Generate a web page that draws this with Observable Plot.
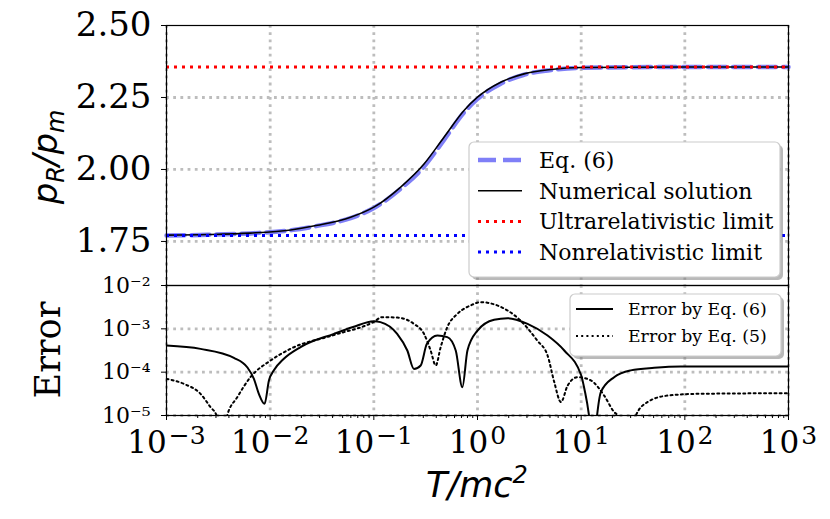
<!DOCTYPE html>
<html>
<head>
<meta charset="utf-8">
<script src="https://cdn.jsdelivr.net/npm/d3@7"></script>
<script src="https://cdn.jsdelivr.net/npm/@observablehq/plot@0.6"></script>
<style>
  body { margin: 0; background: #fff; }
  #chart { position: relative; width: 830px; height: 519px; font-family: "DejaVu Serif", serif; }
  #chart svg { position: absolute; left: 0; overflow: visible; }
</style>
</head>
<body>
<div id="chart"></div>
<script>
// --- data ---
const numT = [0.001, 0.0025, 0.00646, 0.0158, 0.0285, 0.0597, 0.1, 0.1815, 0.3048, 0.4753, 0.7413, 1, 1.675, 2.81, 5.09, 10, 100, 1000];
const numP = [1.772, 1.774, 1.779, 1.790, 1.806, 1.834, 1.869, 1.939, 2.019, 2.112, 2.205, 2.251, 2.303, 2.332, 2.347, 2.354, 2.356, 2.356];

const fitT = [0.001, 0.0025, 0.00646, 0.0158, 0.0285, 0.0597, 0.1, 0.1815, 0.3048, 0.4753, 0.7413, 1, 1.675, 2.81, 5.09, 10, 100, 1000];
const fitP = [1.771, 1.773, 1.778, 1.789, 1.804, 1.831, 1.866, 1.933, 2.010, 2.103, 2.198, 2.245, 2.298, 2.329, 2.345, 2.353, 2.356, 2.356];

const ultraLimit = 2.356;
const nonrelLimit = 1.771;

const err6T = [0.001, 0.00213, 0.00447, 0.00601, 0.00697, 0.00778, 0.00883, 0.00973, 0.01086, 0.01355, 0.01963, 0.0412, 0.063, 0.1, 0.1159, 0.1679, 0.2104, 0.2438, 0.2831, 0.3251, 0.4102, 0.5117, 0.6166, 0.7145, 0.7998, 1, 1.445, 1.95, 3.04, 4.74, 6.87, 10, 10.72, 12.2, 13.0, 13.9, 15.49, 20.8, 30.1, 50.6, 91.4, 1000];
const err6 = [4.12e-4, 3.45e-4, 2.14e-4, 1.30e-4, 7.0e-5, 3.16e-5, 1.86e-5, 6.46e-5, 1.10e-4, 2.04e-4, 3.80e-4, 7.67e-4, 1.10e-3, 1.50e-3, 1.43e-3, 7.67e-4, 3.16e-4, 1.19e-4, 1.43e-4, 4.51e-4, 7.0e-4, 6.43e-4, 3.16e-4, 4.5e-5, 3.16e-4, 9.1e-4, 1.62e-3, 1.76e-3, 1.30e-3, 7.0e-4, 3.16e-4, 8.5e-5, 4.2e-5, 6e-6, 1e-6, 6e-6, 3.47e-5, 7.67e-5, 1.10e-4, 1.26e-4, 1.35e-4, 1.35e-4];

const err5T = [0.001, 0.00147, 0.00213, 0.00266, 0.00304, 0.00339, 0.00385, 0.00481, 0.00646, 0.01009, 0.01574, 0.0412, 0.1, 0.12, 0.168, 0.2438, 0.3048, 0.3532, 0.3954, 0.4416, 0.5117, 0.6397, 0.859, 1.072, 1.549, 2.60, 3.767, 4.74, 5.50, 6.38, 7.40, 9.25, 12.39, 16.67, 20.8, 22.4, 27.5, 33.7, 43.6, 68.1, 131.8, 1000];
const err5 = [7.0e-5, 5.37e-5, 3.16e-5, 1.55e-5, 1e-5, 1e-6, 1e-5, 2.63e-5, 7.67e-5, 1.86e-4, 3.47e-4, 7.2e-4, 1.45e-3, 1.86e-3, 1.82e-3, 1.30e-3, 7.67e-4, 3.16e-4, 1.43e-4, 3.80e-4, 1.10e-3, 2.22e-3, 3.47e-3, 4.12e-3, 3.47e-3, 1.55e-3, 5.37e-4, 2.43e-4, 5.9e-5, 2.04e-5, 4.9e-5, 7.67e-5, 6.46e-5, 2.88e-5, 1.2e-5, 1e-5, 1e-6, 1e-5, 2.04e-5, 2.88e-5, 3.16e-5, 3.27e-5];

const decades = [1e-3, 1e-2, 1e-1, 1, 1e1, 1e2, 1e3];
const pTicks = [1.75, 2.0, 2.25, 2.5];
const errTicks = [1e-5, 1e-4, 1e-3, 1e-2];

// minor ticks 2..9 in each decade
const minorTicks = [];
for (const d of decades.slice(0, -1)) for (let k = 2; k <= 9; k++) minorTicks.push(d * k);

const rows = (xs, ys) => xs.map((T, i) => ({T, v: ys[i]}));

const gridStyle = {stroke: "#bdbdbd", strokeWidth: 2.8, strokeDasharray: "2.8,4.4"};
const dotted = "2,3.2";
const powLabel = d => `10^${Math.round(Math.log10(d))}`;
// unicode superscript form for the small error-axis labels
const supDigits = {"-": "\u207B", "0": "\u2070", "1": "\u00B9", "2": "\u00B2", "3": "\u00B3", "4": "\u2074", "5": "\u2075"};
const powSup = d => "10" + String(Math.round(Math.log10(d))).split("").map(c => supDigits[c]).join("");

// turn "10^-3" into 10 with a raised exponent
function superscripts(svg, axis, baseSize, supSize, rise, gap) {
  svg.querySelectorAll(`[aria-label="${axis}-axis tick label"] text`).forEach(el => {
    const s = el.textContent;
    if (!s.includes("^")) return;
    const [base, exp] = s.split("^");
    const t = d3.select(el);
    t.text(null);
    t.append("tspan").style("font-size", baseSize + "px").text(base);
    t.append("tspan").style("font-size", supSize + "px").attr("dx", gap).attr("dy", -rise)
      .text(exp.replace("-", "\u2212"));
  });
}

const chart = document.querySelector("#chart");

const topPlot = Plot.plot({
  width: 830,
  height: 286,
  marginLeft: 166,
  marginRight: 42,
  marginTop: 25,
  marginBottom: 1,
  style: {fontFamily: "DejaVu Serif", background: "transparent", color: "black", overflow: "visible"},
  x: {type: "log", domain: [1e-3, 1e3], axis: null},
  y: {domain: [1.597, 2.5]},
  marks: [
    Plot.ruleX(decades, gridStyle),
    Plot.ruleY(pTicks.slice(0, 3), gridStyle),
    Plot.line(rows(fitT, fitP), {x: "T", y: "v", stroke: "#7f7ff7", strokeWidth: 4.5, strokeDasharray: "18,7", curve: "monotone-x"}),
    Plot.line(rows(numT, numP), {x: "T", y: "v", stroke: "black", strokeWidth: 1.6, curve: "monotone-x"}),
    Plot.ruleY([ultraLimit], {stroke: "red", strokeWidth: 3, strokeDasharray: "3,5"}),
    Plot.ruleY([nonrelLimit], {stroke: "blue", strokeWidth: 3, strokeDasharray: "3,5"}),
    Plot.frame({stroke: "black", strokeWidth: 1.2}),
    Plot.axisY(pTicks, {tickSize: 5, tickPadding: 10, fontSize: 34, tickFormat: d3.format(".2f"), label: null})
  ]
});
topPlot.style.top = "0px";
chart.append(topPlot);

const bottomPlot = Plot.plot({
  width: 830,
  height: 249,
  marginLeft: 166,
  marginRight: 42,
  marginTop: 15,
  marginBottom: 104,
  style: {fontFamily: "DejaVu Serif", background: "transparent", color: "black", overflow: "visible"},
  x: {type: "log", domain: [1e-3, 1e3]},
  y: {type: "log", domain: [1e-5, 1e-2]},
  marks: [
    Plot.ruleX(decades, gridStyle),
    Plot.ruleY(errTicks.slice(0, 3), gridStyle),
    Plot.line(rows(err6T, err6), {x: "T", y: "v", stroke: "black", strokeWidth: 2, curve: "monotone-x", clip: true}),
    Plot.line(rows(err5T, err5), {x: "T", y: "v", stroke: "black", strokeWidth: 2, strokeDasharray: dotted, curve: "monotone-x", clip: true}),
    Plot.frame({stroke: "black", strokeWidth: 1.2}),
    Plot.axisX(minorTicks, {tickSize: 3, tickFormat: () => "", label: null}),
    Plot.axisX(decades, {tickSize: 5, tickPadding: 10, fontSize: 31, tickFormat: powLabel, label: null}),
    Plot.axisY(errTicks, {tickSize: 5, tickPadding: 11, fontSize: 22, tickFormat: powSup, label: null})
  ]
});
bottomPlot.style.top = "270px";
chart.append(bottomPlot);
superscripts(bottomPlot, "x", 31, 25, 9, 2);

// --- axis titles and legends ---
const overlay = d3.select(chart).append("svg")
  .attr("width", 830).attr("height", 519)
  .style("top", "0px")
  .attr("font-family", "DejaVu Serif");

const ylab = overlay.append("text")
  .attr("transform", "translate(57,157) rotate(-90)")
  .attr("text-anchor", "middle")
  .attr("font-family", "DejaVu Sans").attr("font-style", "italic").attr("font-size", 34);
ylab.append("tspan").text("p");
ylab.append("tspan").attr("font-size", 24).attr("dy", 7).text("R");
ylab.append("tspan").attr("dy", -7).text("/p");
ylab.append("tspan").attr("font-size", 24).attr("dy", 7).text("m");

overlay.append("text")
  .attr("transform", "translate(60,350) rotate(-90)")
  .attr("text-anchor", "middle").attr("font-size", 35)
  .text("Error");

const xlab = overlay.append("text")
  .attr("x", 477).attr("y", 497)
  .attr("text-anchor", "middle")
  .attr("font-family", "DejaVu Sans").attr("font-style", "italic").attr("font-size", 35);
xlab.append("tspan").text("T/mc");
xlab.append("tspan").attr("font-size", 24).attr("dy", -14).text("2");

function legendBox(x, y, w, h) {
  overlay.append("rect").attr("x", x + 3).attr("y", y + 3).attr("width", w).attr("height", h)
    .attr("rx", 5).attr("fill", "#808080").attr("opacity", 0.55);
  overlay.append("rect").attr("x", x).attr("y", y).attr("width", w).attr("height", h)
    .attr("rx", 5).attr("fill", "white").attr("stroke", "#cccccc").attr("stroke-width", 1.2);
}

legendBox(469, 142, 311, 135);
const legend1 = [
  {label: "Eq. (6)", stroke: "#7f7ff7", width: 4.5, dash: "18,7"},
  {label: "Numerical solution", stroke: "black", width: 1.6, dash: null},
  {label: "Ultrarelativistic limit", stroke: "red", width: 3, dash: "3,5"},
  {label: "Nonrelativistic limit", stroke: "blue", width: 3, dash: "3,5"}
];
legend1.forEach((d, i) => {
  const y = 160 + i * 30.7;
  overlay.append("line").attr("x1", 478).attr("x2", 522).attr("y1", y).attr("y2", y)
    .attr("stroke", d.stroke).attr("stroke-width", d.width).attr("stroke-dasharray", d.dash);
  overlay.append("text").attr("x", 539).attr("y", y).attr("dy", "0.36em")
    .attr("font-size", 22).text(d.label);
});

legendBox(570, 294, 211, 62);
const legend2 = [
  {label: "Error by Eq. (6)", dash: null},
  {label: "Error by Eq. (5)", dash: dotted}
];
legend2.forEach((d, i) => {
  const y = 309 + i * 27;
  overlay.append("line").attr("x1", 576).attr("x2", 613).attr("y1", y).attr("y2", y)
    .attr("stroke", "black").attr("stroke-width", 2).attr("stroke-dasharray", d.dash);
  overlay.append("text").attr("x", 628).attr("y", y).attr("dy", "0.36em")
    .attr("font-size", 17.3).text(d.label);
});
</script>
</body>
</html>
